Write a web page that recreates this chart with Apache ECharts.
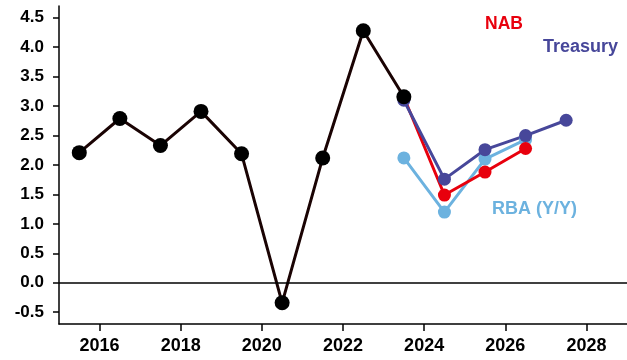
<!DOCTYPE html>
<html>
<head>
<meta charset="utf-8">
<script src="https://cdn.jsdelivr.net/npm/echarts@6/dist/echarts.min.js"></script>
<style>
  html, body { margin: 0; padding: 0; background: #fff; }
  #chart { width: 627px; height: 360px; }
</style>
</head>
<body>
<div id="chart"></div>
<script>
  // 数据
  var xTicks = [2016, 2018, 2020, 2022, 2024, 2026, 2028];
  var yTicks = [-0.5, 0, 0.5, 1, 1.5, 2, 2.5, 3, 3.5, 4, 4.5];

  var actualYears = [2015.5, 2016.5, 2017.5, 2018.5, 2019.5, 2020.5, 2021.5, 2022.5, 2023.5];
  var actualVals  = [2.21, 2.79, 2.33, 2.91, 2.19, -0.34, 2.12, 4.28, 3.16];

  var treasuryYears = [2023.5, 2024.5, 2025.5, 2026.5, 2027.5];
  var treasuryVals  = [3.1, 1.76, 2.26, 2.5, 2.76];

  var nabYears = [2023.5, 2024.5, 2025.5, 2026.5];
  var nabVals  = [3.15, 1.49, 1.88, 2.28];

  var rbaYears = [2023.5, 2024.5, 2025.5, 2026.5];
  var rbaVals  = [2.12, 1.2, 2.1, 2.43];

  function pairs(xs, ys) {
    return xs.map(function (x, i) { return [x, ys[i]]; });
  }

  var chart = echarts.init(document.getElementById('chart'));

  function lineSeries(name, xs, ys, color, size) {
    return {
      name: name,
      type: 'line',
      data: pairs(xs, ys),
      symbol: 'circle',
      symbolSize: size,
      lineStyle: { color: color, width: 3 },
      itemStyle: { color: color },
      animation: false
    };
  }

  var black = lineSeries('actual', actualYears, actualVals, '#000000', 15);
  black.lineStyle.color = '#1a0303';
  black.markLine = {
    silent: true,
    symbol: 'none',
    label: { show: false },
    lineStyle: { color: '#000', width: 1.5, type: 'solid' },
    data: [{ yAxis: 0 }]
  };

  var font = 'Liberation Sans, Arial, sans-serif';

  var option = {
    animation: false,
    grid: { left: 59, right: 0, top: 6, bottom: 36 },
    xAxis: {
      type: 'value',
      min: 2015,
      max: 2029,
      splitLine: { show: false },
      axisLine: { onZero: false, lineStyle: { color: '#000', width: 1.5 } },
      axisTick: { length: 7, lineStyle: { color: '#000', width: 1.5 }, customValues: xTicks },
      axisLabel: {
        customValues: xTicks,
        margin: 13,
        color: '#000',
        fontFamily: font,
        fontWeight: 'bold',
        fontSize: 18,
        formatter: function (v) { return String(v); }
      }
    },
    yAxis: {
      type: 'value',
      min: -0.7,
      max: 4.7,
      splitLine: { show: false },
      axisLine: { show: true, lineStyle: { color: '#000', width: 1.5 } },
      axisTick: { show: true, length: 6, lineStyle: { color: '#000', width: 1.5 }, customValues: yTicks },
      axisLabel: {
        customValues: yTicks,
        margin: 15,
        color: '#000',
        fontFamily: font,
        fontWeight: 'bold',
        fontSize: 17,
        formatter: function (v) { return v.toFixed(1); }
      }
    },
    series: [
      lineSeries('RBA (Y/Y)', rbaYears, rbaVals, '#6cb2df', 13),
      lineSeries('NAB', nabYears, nabVals, '#e8000d', 13),
      lineSeries('Treasury', treasuryYears, treasuryVals, '#47479a', 13),
      black
    ],
    graphic: [
      { type: 'text', left: 485, top: 15, style: { text: 'NAB', fill: '#e8000d', font: 'bold 17.5px ' + font } },
      { type: 'text', left: 543, top: 38, style: { text: 'Treasury', fill: '#47479a', font: 'bold 18px ' + font } },
      { type: 'text', left: 492, top: 200, style: { text: 'RBA (Y/Y)', fill: '#6cb2df', font: 'bold 18px ' + font } }
    ]
  };

  chart.setOption(option);
</script>
</body>
</html>
